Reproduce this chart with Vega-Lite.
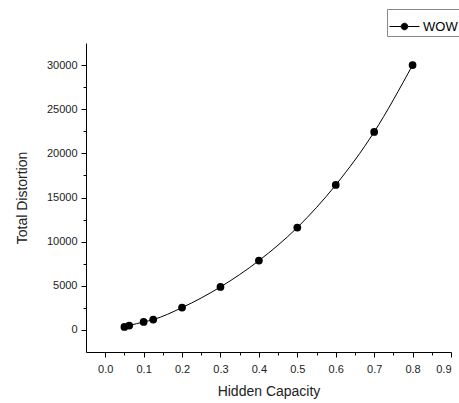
{
  "$schema": "https://vega.github.io/schema/vega-lite/v6.json",
  "width": 365,
  "height": 309,
  "autosize": {"type": "none"},
  "padding": {"left": 86, "top": 43, "right": 8, "bottom": 51},
  "background": "white",
  "config": {
    "view": {"stroke": null},
    "font": "Liberation Sans",
    "axis": {"grid": false, "domainColor": "#000", "tickColor": "#000", "labelColor": "#222", "titleColor": "#222", "labelFont": "Liberation Sans", "titleFont": "Liberation Sans", "titleFontWeight": "normal", "labelFontSize": 11, "titleFontSize": 14}
  },
  "data": {
    "values": [
      {"x": 0.05, "y": 340, "s": "WOW"},
      {"x": 0.0625, "y": 500, "s": "WOW"},
      {"x": 0.1, "y": 900, "s": "WOW"},
      {"x": 0.125, "y": 1170, "s": "WOW"},
      {"x": 0.2, "y": 2530, "s": "WOW"},
      {"x": 0.3, "y": 4870, "s": "WOW"},
      {"x": 0.4, "y": 7850, "s": "WOW"},
      {"x": 0.5, "y": 11600, "s": "WOW"},
      {"x": 0.6, "y": 16420, "s": "WOW"},
      {"x": 0.7, "y": 22420, "s": "WOW"},
      {"x": 0.8, "y": 30000, "s": "WOW"}
    ]
  },
  "resolve": {"axis": {"x": "independent", "y": "independent"}},
  "layer": [
    {
      "mark": {"type": "line", "interpolate": "monotone", "strokeWidth": 1, "clip": false},
      "encoding": {
        "x": {"field": "x", "type": "quantitative", "scale": {"domain": [-0.05, 0.9], "nice": false, "zero": false},
          "axis": {"orient": "bottom", "values": [0, 0.1, 0.2, 0.3, 0.4, 0.5, 0.6, 0.7, 0.8, 0.9], "format": ".1f", "tickSize": 5, "labelPadding": 6, "title": "Hidden Capacity", "titlePadding": 10}},
        "y": {"field": "y", "type": "quantitative", "scale": {"domain": [-2500, 32500], "nice": false, "zero": false},
          "axis": {"orient": "left", "values": [0, 5000, 10000, 15000, 20000, 25000, 30000], "format": "d", "tickSize": 5, "labelPadding": 4, "title": "Total Distortion", "titlePadding": 17}},
        "color": {"field": "s", "type": "nominal", "scale": {"range": ["#000"]},
          "legend": {"title": null, "orient": "none", "legendX": 301, "legendY": -34, "strokeColor": "#888", "padding": 2, "symbolType": "M-1,0H-0.22M0.22,0A0.22,0.22 0 1 1 -0.22,0A0.22,0.22 0 1 1 0.22,0ZM0.22,0H1", "symbolSize": 900, "symbolStrokeWidth": 1, "symbolFillColor": "#000", "symbolStrokeColor": "#000", "labelFontSize": 13, "labelColor": "#000", "labelFont": "Liberation Sans", "labelOffset": 3, "symbolOffset": 0}}
      }
    },
    {
      "mark": {"type": "point", "filled": true, "size": 60, "opacity": 1, "clip": false},
      "encoding": {
        "x": {"field": "x", "type": "quantitative",
          "axis": {"orient": "bottom", "values": [0.05, 0.15, 0.25, 0.35, 0.45, 0.55, 0.65, 0.75, 0.85], "labels": false, "domain": false, "tickSize": 3, "title": null}},
        "y": {"field": "y", "type": "quantitative",
          "axis": {"orient": "left", "values": [2500, 7500, 12500, 17500, 22500, 27500], "labels": false, "domain": false, "tickSize": 3, "title": null}},
        "color": {"field": "s", "type": "nominal", "legend": null}
      }
    }
  ]
}
